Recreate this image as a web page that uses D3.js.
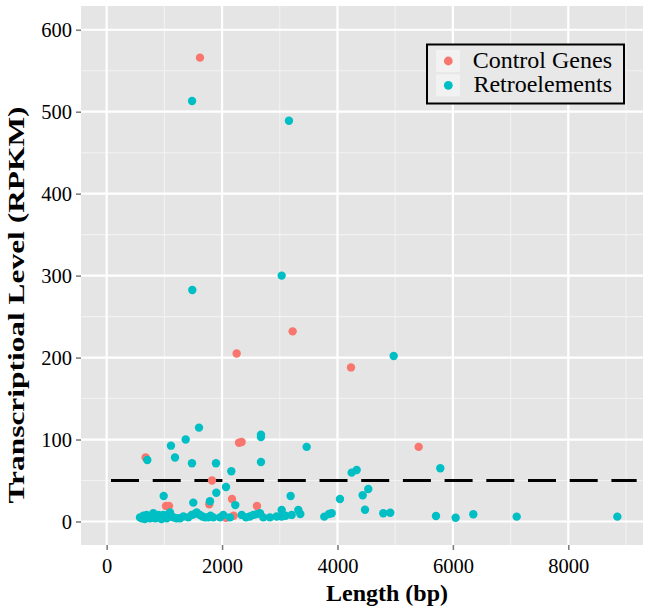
<!DOCTYPE html>
<html>
<head>
<meta charset="utf-8">
<script src="https://cdn.jsdelivr.net/npm/d3@7/dist/d3.min.js"></script>
<style>
  html, body { margin: 0; padding: 0; background: #ffffff; }
  svg { display: block; }
</style>
</head>
<body>
<svg id="chart" width="650" height="607"></svg>
<script>
// ---------------- data ----------------
const seriesNames = ["Control Genes", "Retroelements"];
const seriesColors = ["#F8766D", "#00BFC4"];

const controlLength = [1617, 2253, 3223, 4234, 5407, 675, 2293, 2339, 1825, 1778, 2172, 1028, 1080, 1103, 2605, 2068, 2201];
const controlRPKM   = [566, 205, 232, 188, 91, 78, 96, 97, 50, 21, 27.5, 19, 19, 7, 19, 4.6, 7];

const retroLength = [1480, 3159, 1484, 3033, 1600, 4974, 5782, 4246, 4333, 4534, 4437, 4043, 4477, 4794, 4915,
  5707, 6048, 6354, 7106, 8850, 3900, 3771, 3853, 704, 1369, 1114, 2674, 2674, 3466, 1184, 1478, 1894, 2674,
  2160, 2068, 1900, 988, 1501, 1790, 2229, 3188, 3321, 3356,
  577, 610, 635, 660, 693, 720, 750, 780, 808, 840, 866, 900, 924, 950, 982, 1010, 1040, 1070, 1097, 1130,
  1155, 1210, 1270, 1330, 1415, 1473, 1520, 1560, 1617, 1660, 1704, 1761, 1800, 1848, 1964, 2021, 2137, 2340,
  2414, 2480, 2541, 2600, 2657, 2714, 2830, 2946, 3033, 3033, 3100, 3206];
const retroRPKM = [513, 489, 282.5, 300, 114.5, 202, 65, 59.6, 62.8, 39.7, 32, 27.5, 14.4, 10, 10.7,
  6.7, 4.6, 8.8, 5.9, 5.9, 10, 5.9, 9.2, 75, 100, 92.5, 106, 103, 91, 78, 71, 71, 72.6,
  61.3, 42, 35, 31, 23, 24.6, 20, 31, 14, 9.2,
  5, 4, 7, 3, 8, 5, 4, 7, 10, 4, 5, 8, 6, 3, 8, 5, 4, 9, 11, 6,
  5, 4, 4, 6, 5, 8, 9, 11, 8, 6, 5, 5, 7, 5, 5, 8, 5, 8,
  5, 6, 8, 9, 10, 5, 5, 6, 14, 6, 7, 8];

const thresholdX = [75, 9185];
const thresholdY = [50, 50];

const xMajorTicks = [0, 2000, 4000, 6000, 8000];
const xMinorTicks = [1000, 3000, 5000, 7000, 9000];
const yMajorTicks = [0, 100, 200, 300, 400, 500, 600];
const yMinorTicks = [50, 150, 250, 350, 450, 550];

const xTitle = "Length (bp)";
const yTitle = "Transcriptioal Level (RPKM)";

// ---------------- layout ----------------
const panel = { left: 81, right: 643, top: 6, bottom: 545 };
const svg = d3.select("#chart");
const font = "'Liberation Serif', 'Times New Roman', serif";

const x = d3.scaleLinear().domain([-445, 9295]).range([panel.left, panel.right]);
const y = d3.scaleLinear().domain([-28.7, 629]).range([panel.bottom, panel.top]);

// panel background
svg.append("rect")
  .attr("x", panel.left).attr("y", panel.top)
  .attr("width", panel.right - panel.left).attr("height", panel.bottom - panel.top)
  .attr("fill", "#E5E5E5");

const grid = svg.append("g");
grid.selectAll(".xminor").data(xMinorTicks).join("line")
  .attr("x1", d => x(d)).attr("x2", d => x(d))
  .attr("y1", panel.top).attr("y2", panel.bottom)
  .attr("stroke", "#F2F2F2").attr("stroke-width", 1.1);
grid.selectAll(".yminor").data(yMinorTicks).join("line")
  .attr("y1", d => y(d)).attr("y2", d => y(d))
  .attr("x1", panel.left).attr("x2", panel.right)
  .attr("stroke", "#F2F2F2").attr("stroke-width", 1.1);
grid.selectAll(".xmajor").data(xMajorTicks).join("line")
  .attr("x1", d => x(d)).attr("x2", d => x(d))
  .attr("y1", panel.top).attr("y2", panel.bottom)
  .attr("stroke", "#FFFFFF").attr("stroke-width", 2.2);
grid.selectAll(".ymajor").data(yMajorTicks).join("line")
  .attr("y1", d => y(d)).attr("y2", d => y(d))
  .attr("x1", panel.left).attr("x2", panel.right)
  .attr("stroke", "#FFFFFF").attr("stroke-width", 2.2);

// axes
const xAxis = svg.append("g")
  .attr("transform", `translate(0,${panel.bottom})`)
  .call(d3.axisBottom(x).tickValues(xMajorTicks).tickSize(5).tickPadding(4).tickFormat(d3.format("d")));
const yAxis = svg.append("g")
  .attr("transform", `translate(${panel.left},0)`)
  .call(d3.axisLeft(y).tickValues(yMajorTicks).tickSize(5).tickPadding(4).tickFormat(d3.format("d")));
[xAxis, yAxis].forEach(a => {
  a.select(".domain").remove();
  a.selectAll(".tick line").attr("stroke", "#7F7F7F").attr("stroke-width", 1.6);
  a.selectAll(".tick text").attr("fill", "#000").style("font-family", font).style("font-size", "20.5px");
});
xAxis.selectAll(".tick text").attr("dy", "0.95em");
yAxis.selectAll(".tick text").attr("dy", "0.34em");

// threshold dashed line
svg.append("path")
  .datum(thresholdX.map((d, i) => [d, thresholdY[i]]))
  .attr("d", d3.line().x(d => x(d[0])).y(d => y(d[1])))
  .attr("fill", "none").attr("stroke", "#000").attr("stroke-width", 3)
  .attr("stroke-dasharray", "28,13.7");

// points
const pts = svg.append("g");
pts.selectAll(".ctrl").data(controlLength.map((d, i) => [d, controlRPKM[i]])).join("circle")
  .attr("cx", d => x(d[0])).attr("cy", d => y(d[1])).attr("r", 4.2)
  .attr("fill", seriesColors[0]);
pts.selectAll(".retro").data(retroLength.map((d, i) => [d, retroRPKM[i]])).join("circle")
  .attr("cx", d => x(d[0])).attr("cy", d => y(d[1])).attr("r", 4.2)
  .attr("fill", seriesColors[1]);

// titles
svg.append("text")
  .attr("x", 387).attr("y", 601)
  .attr("text-anchor", "middle")
  .style("font-family", font).style("font-weight", "bold").style("font-size", "24px")
  .text(xTitle);
svg.append("text")
  .attr("transform", "translate(24,305) rotate(-90)")
  .attr("text-anchor", "middle")
  .style("font-family", font).style("font-weight", "bold").style("font-size", "24px")
  .attr("textLength", 397).attr("lengthAdjust", "spacingAndGlyphs")
  .text(yTitle);

// legend
const lg = svg.append("g");
lg.append("rect")
  .attr("x", 427).attr("y", 44.5).attr("width", 197).attr("height", 59)
  .attr("fill", "#E8E8E8").attr("stroke", "#000").attr("stroke-width", 2);
seriesNames.forEach((name, i) => {
  const cy = 61 + i * 24.3;
  lg.append("rect").attr("x", 436).attr("y", cy - 11).attr("width", 24).attr("height", 22).attr("fill", "#F2F2F2");
  lg.append("circle").attr("cx", 448.3).attr("cy", cy).attr("r", 4.4).attr("fill", seriesColors[i]);
  lg.append("text").attr("x", 612).attr("y", cy + 6.5)
    .attr("text-anchor", "end")
    .style("font-family", font).style("font-size", "24px")
    .text(name);
});
</script>
</body>
</html>
